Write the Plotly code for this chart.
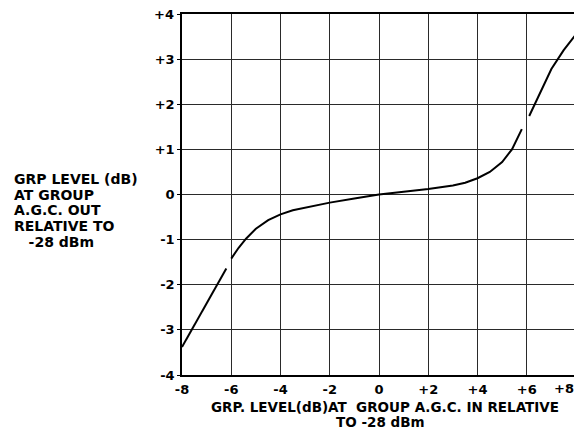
import plotly.graph_objects as go

# Curve (x: input level dB, y: output level dB)
seg1_x = [-8.0, -7.5, -7.0, -6.6, -6.2]
seg1_y = [-3.38, -2.90, -2.42, -2.02, -1.64]
seg2_x = [-6.0, -5.7, -5.4, -5.0, -4.5, -4.0, -3.5, -3.0, -2.5, -2.0, -1.0, 0.0]
seg2_y = [-1.42, -1.18, -0.98, -0.76, -0.57, -0.44, -0.35, -0.29, -0.23, -0.18, -0.09, 0.0]
seg3_x = [0.0, 1.0, 2.0, 3.0, 3.5, 4.0, 4.5, 5.0, 5.4, 5.8]
seg3_y = [0.0, 0.06, 0.12, 0.20, 0.26, 0.36, 0.50, 0.72, 1.0, 1.45]
seg4_x = [6.1, 6.6, 7.0, 7.5, 8.0]
seg4_y = [1.74, 2.32, 2.78, 3.20, 3.55]

x_ticks = [-8, -6, -4, -2, 0, 2, 4, 6, 8]
x_labels = ["-8", "-6", "-4", "-2", "0", "+2", "+4", "+6", "+8"]
y_ticks = [4, 3, 2, 1, 0, -1, -2, -3, -4]
y_labels = ["+4", "+3", "+2", "+1", "0", "-1", "-2", "-3", "-4"]

y_title_lines = ["GRP LEVEL (dB)", "AT GROUP", "A.G.C. OUT", "RELATIVE TO", "   -28 dBm"]
x_title_lines = ["GRP. LEVEL(dB)AT  GROUP A.G.C. IN RELATIVE", "TO -28 dBm"]

FONT = "DejaVu Sans"

# page body has an 8px margin; plot area should sit at x 182..576, y 14..375
PX_L, PX_R, PX_T, PX_B = 182, 576, 14, 375
PW, PH = PX_R - PX_L, PX_B - PX_T


def px(xp):
    return (xp - PX_L) / PW


def py(yp):
    return (PX_B - yp) / PH


xs = seg1_x + [None] + seg2_x + seg3_x[1:] + [None] + seg4_x
ys = seg1_y + [None] + seg2_y + seg3_y[1:] + [None] + seg4_y

tick_font = dict(family=FONT, size=13, color="black", weight="bold")

fig = go.Figure()
fig.add_trace(go.Scatter(x=xs, y=ys, mode="lines",
                         line=dict(color="black", width=2),
                         connectgaps=False, showlegend=False,
                         hoverinfo="skip"))

# edge labels (+8 on x, +4 on y) sit at the page edges, so they are drawn as annotations
shown_x_labels = x_labels[:-1] + [""]
shown_y_labels = [""] + y_labels[1:]

fig.update_xaxes(range=[-8, 8], tickvals=x_ticks, ticktext=shown_x_labels,
                 showgrid=True, gridcolor="#2a2a2a", gridwidth=1,
                 showline=True, linecolor="black", linewidth=1.5, mirror=True,
                 zeroline=False, ticks="", ticklabelstandoff=2,
                 automargin=False, tickfont=tick_font)
fig.update_yaxes(range=[-4, 4], tickvals=y_ticks, ticktext=shown_y_labels,
                 showgrid=True, gridcolor="#2a2a2a", gridwidth=1,
                 showline=True, linecolor="black", linewidth=1.5, mirror=True,
                 zeroline=False, ticks="outside", ticklen=3, tickcolor="black",
                 automargin=False, tickfont=tick_font)

fig.add_annotation(text=x_labels[-1], xref="paper", yref="paper",
                   x=px(576), y=py(388), xanchor="right", yanchor="middle",
                   showarrow=False, font=tick_font)
fig.add_annotation(text=y_labels[0], xref="paper", yref="y",
                   x=px(176), y=y_ticks[0], xanchor="right", yanchor="middle",
                   showarrow=False, font=tick_font)

y_line_px = [179, 195, 210, 226, 242]
for txt, yp in zip(y_title_lines, y_line_px):
    fig.add_annotation(text=txt, xref="paper", yref="paper",
                       x=px(12), y=py(yp), xanchor="left", yanchor="middle",
                       showarrow=False,
                       font=dict(family=FONT, size=14, color="black", weight="bold"))

x_line_pos = [(385, 407), (380, 422)]
for txt, (xp, yp) in zip(x_title_lines, x_line_pos):
    fig.add_annotation(text=txt, xref="paper", yref="paper",
                       x=px(xp), y=py(yp), xanchor="center", yanchor="middle",
                       showarrow=False,
                       font=dict(family=FONT, size=13.5, color="black", weight="bold"))

fig.update_layout(width=582, height=431,
                  margin=dict(l=PX_L - 8, r=582 - (PX_R - 8), t=PX_T - 8,
                              b=431 - (PX_B - 8)),
                  plot_bgcolor="white", paper_bgcolor="white")

fig.write_html("out.html")
